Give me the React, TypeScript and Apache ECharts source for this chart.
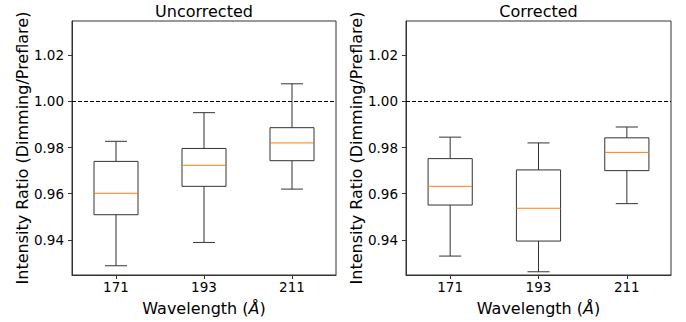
import React, { useEffect, useRef } from "react";
import * as echarts from "echarts";

const categories = ["171", "193", "211"];
// [low whisker, Q1, median, Q3, high whisker]
const uncorrected = [
  [0.9288, 0.9509, 0.9602, 0.974, 0.9827],
  [0.9389, 0.9632, 0.9723, 0.9796, 0.9951],
  [0.962, 0.9743, 0.982, 0.9886, 1.0076],
];
const corrected = [
  [0.933, 0.9551, 0.9632, 0.9752, 0.9845],
  [0.9262, 0.9395, 0.9537, 0.9703, 0.982],
  [0.9557, 0.97, 0.9779, 0.9842, 0.9889],
];
const yTicks = [0.94, 0.96, 0.98, 1.0, 1.02];
const titles = ["Uncorrected", "Corrected"];
const referenceValue = 1.0;
const yMin = 0.9248;
const yMax = 1.0348;

const FONT = "DejaVu Sans";
const LINE = "#333";
const MEDIAN = "#ff7f0e";

function renderBox(params: any, api: any) {
  const idx = api.value(0);
  const low = api.coord([idx, api.value(1)]);
  const q1 = api.coord([idx, api.value(2)]);
  const med = api.coord([idx, api.value(3)]);
  const q3 = api.coord([idx, api.value(4)]);
  const high = api.coord([idx, api.value(5)]);
  const band = api.size([1, 0])[0];
  const bw = band * 0.5;
  const cw = band * 0.25;
  const x = low[0];
  const ls = { stroke: LINE, lineWidth: 1 };
  return {
    type: "group",
    children: [
      { type: "line", shape: { x1: x, y1: q1[1], x2: x, y2: low[1] }, style: ls },
      { type: "line", shape: { x1: x, y1: q3[1], x2: x, y2: high[1] }, style: ls },
      { type: "line", shape: { x1: x - cw / 2, y1: low[1], x2: x + cw / 2, y2: low[1] }, style: ls },
      { type: "line", shape: { x1: x - cw / 2, y1: high[1], x2: x + cw / 2, y2: high[1] }, style: ls },
      {
        type: "rect",
        shape: { x: x - bw / 2, y: q3[1], width: bw, height: q1[1] - q3[1] },
        style: { stroke: LINE, lineWidth: 1, fill: "none" },
      },
      { type: "line", shape: { x1: x - bw / 2, y1: med[1], x2: x + bw / 2, y2: med[1] }, style: { stroke: MEDIAN, lineWidth: 1 } },
    ],
  };
}

export default function App() {
  const ref = useRef<HTMLDivElement>(null);
  useEffect(() => {
    const chart = echarts.init(ref.current!, null, { renderer: "svg" });
    const grids = [
      { left: 72, top: 21, width: 264, height: 254 },
      { left: 406, top: 21, width: 265, height: 254 },
    ];
    const datasets = [uncorrected, corrected];
    chart.setOption({
      animation: false,
      grid: grids.map((g) => ({ ...g, show: true, borderColor: LINE, borderWidth: 1, backgroundColor: "transparent" })),
      graphic: titles.map((t, i) => ({
        type: "text",
        x: grids[i].left + grids[i].width / 2,
        y: 11,
        style: { text: t, font: `16px '${FONT}'`, fill: "#000", textAlign: "center", textVerticalAlign: "middle" },
      })),
      xAxis: [0, 1].map((i) => ({
        type: "category",
        gridIndex: i,
        data: categories,
        boundaryGap: true,
        name: "Wavelength ({i|Å})",
        nameLocation: "middle",
        nameGap: 25,
        nameTextStyle: {
          fontFamily: FONT,
          fontSize: 16,
          color: "#000",
          rich: { i: { fontFamily: FONT, fontSize: 16, fontStyle: "italic", color: "#000" } },
        },
        axisLine: { show: true, lineStyle: { color: LINE, width: 1 } },
        axisTick: { show: true, alignWithLabel: true, length: 4, lineStyle: { color: LINE } },
        axisLabel: { fontFamily: FONT, fontSize: 13.5, color: "#000", margin: 5 },
        splitLine: { show: false },
      })),
      yAxis: [0, 1].map((i) => ({
        type: "value",
        gridIndex: i,
        min: yMin,
        max: yMax,
        name: "Intensity Ratio (Dimming/Preflare)",
        nameLocation: "middle",
        nameGap: 42,
        nameTextStyle: { fontFamily: FONT, fontSize: 16, color: "#000" },
        axisLine: { show: true, lineStyle: { color: LINE, width: 1 } },
        axisTick: { show: true, length: 4, customValues: yTicks, lineStyle: { color: LINE } },
        axisLabel: {
          fontFamily: FONT,
          fontSize: 13.5,
          color: "#000",
          margin: 8,
          customValues: yTicks,
          formatter: (v: number) => v.toFixed(2),
        },
        splitLine: { show: false },
      })),
      series: [0, 1].map((i) => ({
        type: "custom",
        xAxisIndex: i,
        yAxisIndex: i,
        renderItem: renderBox,
        encode: { x: 0, y: [1, 2, 3, 4, 5] },
        data: datasets[i].map((d, k) => [k, ...d]),
        markLine: {
          silent: true,
          symbol: "none",
          label: { show: false },
          lineStyle: { color: "#000", type: [4, 2], width: 1 },
          data: [{ yAxis: referenceValue }],
        },
      })),
    });
    return () => chart.dispose();
  }, []);
  return <div ref={ref} style={{ width: 686, height: 322, position: "absolute", left: 0, top: 0 }} />;
}
